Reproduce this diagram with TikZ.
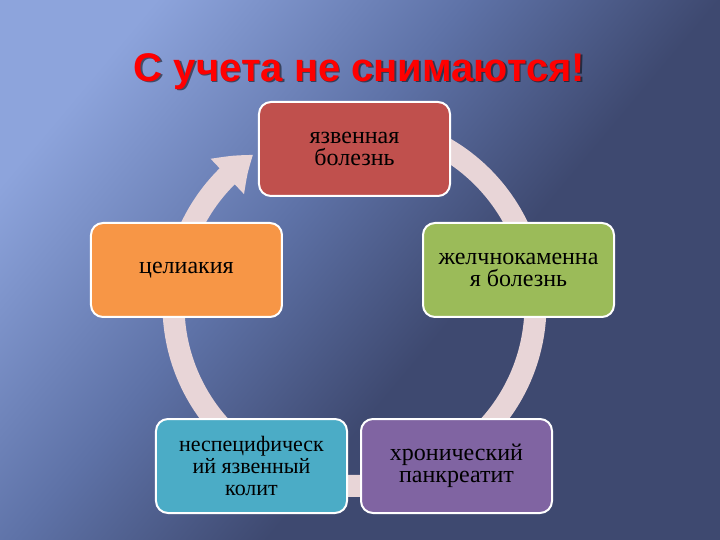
\documentclass[tikz,border=0pt]{standalone}
\usepackage{fontspec}
\setmainfont{Liberation Serif}
\newfontfamily\titlefont{Liberation Sans}
\usetikzlibrary{positioning,arrows.meta,bending,fadings}

\definecolor{bgLight}{RGB}{141,164,220}
\definecolor{bgMid}{RGB}{94,114,167}
\definecolor{bgDark}{RGB}{62,73,112}
\definecolor{ringPink}{RGB}{232,213,215}
\definecolor{ulcerRed}{RGB}{192,80,77}
\definecolor{celiacOrange}{RGB}{247,150,70}
\definecolor{gallGreen}{RGB}{155,187,89}
\definecolor{colitisAqua}{RGB}{75,172,198}
\definecolor{pancrPurple}{RGB}{128,100,162}

\pgfdeclarehorizontalshading{slide}{100bp}{color(0bp)=(bgLight); color(24bp)=(bgLight); color(43bp)=(bgMid); color(58bp)=(bgDark); color(100bp)=(bgDark)}
\tikzfading[name=streak, top color=transparent!100, middle color=transparent!80, bottom color=transparent!100]

\tikzset{
    disease/.style = {draw = white, line width = 2pt, rounded corners = 12pt,
        minimum width = 191pt, minimum height = 94pt, align = center,
        text = black, font = \fontsize{24}{22}\selectfont}
}

\begin{document}
\begin{tikzpicture}[
    node distance = 121pt
]
% background
\shade[shading = slide, shading angle = -40]
(-354.5pt, 149pt) rectangle (365.5pt, -391pt);
\fill[white, path fading = streak, fading transform = {rotate = -45}]
(-354.5pt, -60pt) -- (-230pt, 149pt) -- (-150pt, 149pt) -- (-354.5pt, -210pt) -- cycle;
\fill[white, path fading = streak, fading transform = {rotate = -45}, opacity = 0.6]
(-240pt, -250pt) -- (40pt, 60pt) -- (80pt, 60pt) -- (-200pt, -290pt) -- cycle;
\useasboundingbox (-354.5pt, 149pt) rectangle (365.5pt, -391pt);

% ring
\draw[ringPink, line width = 22pt, -{Triangle[width = 46pt, length = 34pt, bend]}, shift = {(0pt, -156pt)}]
(85:181pt) arc[start angle = 85, end angle = -236, radius = 181pt];

% title
\node (titleshadow) at (6.5pt, 66pt) [anchor = base, text = black, opacity = 0.5]
{\titlefont\bfseries\fontsize{40}{44}\selectfont С учета не снимаются!};
\node (title) at (5pt, 67.5pt) [anchor = base, text = red]
{\titlefont\bfseries\fontsize{40}{44}\selectfont С учета не снимаются!};

% boxes
\node[disease] (ulcer) at (0pt, 0pt) [fill = ulcerRed] {язвенная\\болезнь};
\node[disease] (celiac) [below of = ulcer, xshift = -168pt, fill = celiacOrange] {целиакия};
\node[disease] (gall) [below of = ulcer, xshift = 164pt, fill = gallGreen] {желчнокаменна\\я болезнь};
\node[disease] (colitis) [below of = celiac, xshift = 65pt, yshift = -75pt, fill = colitisAqua,
    font = \fontsize{22}{22}\selectfont] {неспецифическ\\ий язвенный\\колит};
\node[disease] (pancr) [right of = colitis, xshift = 84pt, fill = pancrPurple] {хронический\\панкреатит};

\end{tikzpicture}
\end{document}
